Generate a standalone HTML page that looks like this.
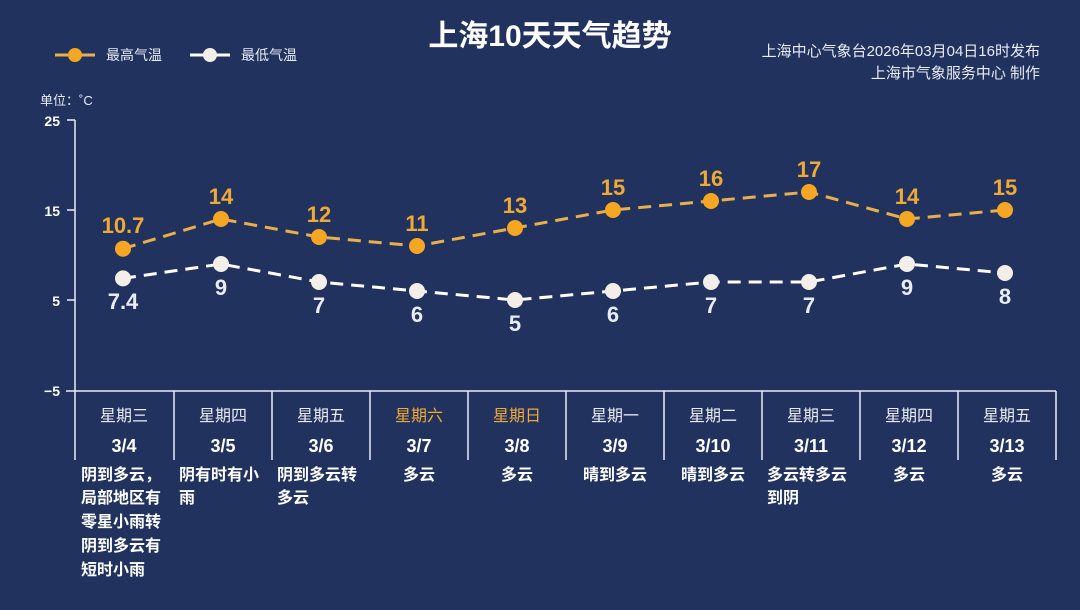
<!DOCTYPE html>
<html><head><meta charset="utf-8"><style>
html,body{margin:0;padding:0;background:#22325f;}
svg{display:block}
text{font-family:"Liberation Sans","Noto Sans CJK SC",sans-serif;}
</style></head><body>
<svg width="1080" height="610" viewBox="0 0 1080 610" xmlns="http://www.w3.org/2000/svg">
<rect width="1080" height="610" fill="#22325f"/>
<text x="550" y="46" text-anchor="middle" font-size="30" font-weight="bold" fill="#fff">上海10天天气趋势</text>
<text x="1040" y="56" text-anchor="end" font-size="15" fill="#e8ecf5">上海中心气象台2026年03月04日16时发布</text>
<text x="1040" y="78" text-anchor="end" font-size="15" fill="#e8ecf5">上海市气象服务中心 制作</text>
<!-- legend -->
<line x1="55" y1="55" x2="95" y2="55" stroke="#e8b04a" stroke-width="3"/>
<circle cx="75" cy="55" r="7" fill="#f5a623"/>
<text x="106" y="60" font-size="14" fill="#e8ecf5">最高气温</text>
<line x1="190" y1="55" x2="230" y2="55" stroke="#fff" stroke-width="3"/>
<circle cx="210" cy="55" r="7" fill="#f3efe8"/>
<text x="241" y="60" font-size="14" fill="#e8ecf5">最低气温</text>
<text x="40" y="105" font-size="13" fill="#e8ecf5">单位：˚C</text>
<!-- axis -->
<g stroke="#e8ecf5" stroke-width="1.5">
<line x1="75" y1="120" x2="75" y2="460"/>
<line x1="67" y1="120" x2="75" y2="120"/>
<line x1="67" y1="210" x2="75" y2="210"/>
<line x1="67" y1="300" x2="75" y2="300"/>
<line x1="66" y1="391" x2="1056" y2="391"/>
<line x1="174" y1="391" x2="174" y2="460"/>
<line x1="272" y1="391" x2="272" y2="460"/>
<line x1="370" y1="391" x2="370" y2="460"/>
<line x1="468" y1="391" x2="468" y2="460"/>
<line x1="566" y1="391" x2="566" y2="460"/>
<line x1="664" y1="391" x2="664" y2="460"/>
<line x1="762" y1="391" x2="762" y2="460"/>
<line x1="860" y1="391" x2="860" y2="460"/>
<line x1="958" y1="391" x2="958" y2="460"/>
<line x1="1056" y1="391" x2="1056" y2="460"/>
</g>
<g font-size="14" font-weight="bold" fill="#fff" text-anchor="end">
<text x="60" y="126">25</text><text x="60" y="216">15</text><text x="60" y="306">5</text><text x="60" y="396">−5</text>
</g>
<!-- lines -->
<polyline fill="none" stroke="#e8b04a" stroke-width="3" stroke-dasharray="13,8" points="123,248.7 221,219 319,237 417,246 515,228 613,210 711,201 809,192 907,219 1005,210"/>
<polyline fill="none" stroke="#fff" stroke-width="3" stroke-dasharray="13,8" points="123,278.4 221,264 319,282 417,291 515,300 613,291 711,282 809,282 907,264 1005,273"/>
<g fill="#f5a623">
<circle cx="123" cy="248.7" r="8"/><circle cx="221" cy="219" r="8"/><circle cx="319" cy="237" r="8"/><circle cx="417" cy="246" r="8"/><circle cx="515" cy="228" r="8"/><circle cx="613" cy="210" r="8"/><circle cx="711" cy="201" r="8"/><circle cx="809" cy="192" r="8"/><circle cx="907" cy="219" r="8"/><circle cx="1005" cy="210" r="8"/>
</g>
<g fill="#f3efe8">
<circle cx="123" cy="278.4" r="8"/><circle cx="221" cy="264" r="8"/><circle cx="319" cy="282" r="8"/><circle cx="417" cy="291" r="8"/><circle cx="515" cy="300" r="8"/><circle cx="613" cy="291" r="8"/><circle cx="711" cy="282" r="8"/><circle cx="809" cy="282" r="8"/><circle cx="907" cy="264" r="8"/><circle cx="1005" cy="273" r="8"/>
</g>
<g font-size="22" font-weight="bold" fill="#eeaa35" text-anchor="middle">
<text x="123" y="233">10.7</text><text x="221" y="204">14</text><text x="319" y="222">12</text><text x="417" y="231">11</text><text x="515" y="213">13</text><text x="613" y="195">15</text><text x="711" y="186">16</text><text x="809" y="177">17</text><text x="907" y="204">14</text><text x="1005" y="195">15</text>
</g>
<g font-size="22" font-weight="bold" fill="#e8ecf5" text-anchor="middle">
<text x="123" y="309">7.4</text><text x="221" y="295">9</text><text x="319" y="313">7</text><text x="417" y="322">6</text><text x="515" y="331">5</text><text x="613" y="322">6</text><text x="711" y="313">7</text><text x="809" y="313">7</text><text x="907" y="295">9</text><text x="1005" y="304">8</text>
</g>
<!-- weekdays -->
<g font-size="16" fill="#e8ecf5" text-anchor="middle">
<text x="124" y="421">星期三</text><text x="223" y="421">星期四</text><text x="321" y="421">星期五</text>
<text x="419" y="421" fill="#eeaa35">星期六</text><text x="517" y="421" fill="#eeaa35">星期日</text>
<text x="615" y="421">星期一</text><text x="713" y="421">星期二</text><text x="811" y="421">星期三</text><text x="909" y="421">星期四</text><text x="1007" y="421">星期五</text>
</g>
<g font-size="18" font-weight="bold" fill="#fff" text-anchor="middle">
<text x="124" y="452">3/4</text><text x="223" y="452">3/5</text><text x="321" y="452">3/6</text><text x="419" y="452">3/7</text><text x="517" y="452">3/8</text><text x="615" y="452">3/9</text><text x="713" y="452">3/10</text><text x="811" y="452">3/11</text><text x="909" y="452">3/12</text><text x="1007" y="452">3/13</text>
</g>
<g font-size="16" font-weight="bold" fill="#fff">
<text x="81" y="480">阴到多云，</text>
<text x="81" y="503">局部地区有</text>
<text x="81" y="527">零星小雨转</text>
<text x="81" y="551">阴到多云有</text>
<text x="81" y="575">短时小雨</text>
<text x="179" y="480">阴有时有小</text>
<text x="179" y="503">雨</text>
<text x="277" y="480">阴到多云转</text>
<text x="277" y="503">多云</text>
<text x="767" y="480">多云转多云</text>
<text x="767" y="503">到阴</text>
</g>
<g font-size="16" font-weight="bold" fill="#fff" text-anchor="middle">
<text x="419" y="480">多云</text><text x="517" y="480">多云</text><text x="615" y="480">晴到多云</text><text x="713" y="480">晴到多云</text><text x="909" y="480">多云</text><text x="1007" y="480">多云</text>
</g>
</svg>
</body></html>
